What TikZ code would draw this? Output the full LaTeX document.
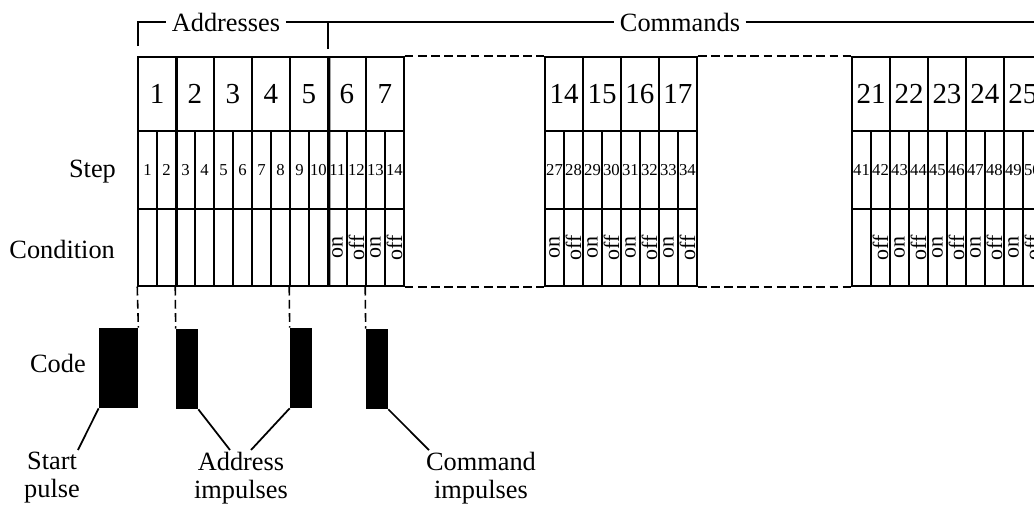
\documentclass[tikz,border=0pt]{standalone}
\usepackage{fontspec}
\setmainfont{Liberation Serif}
\usetikzlibrary{positioning}

\tikzset{
  box/.style={draw, line width=0.85pt, inner sep=0pt, minimum width=0.76cm,
    minimum height=1.48cm, font=\fontsize{16.5}{18}\selectfont},
  stepcell/.style={draw, line width=0.85pt, inner sep=0pt, minimum width=0.38cm,
    minimum height=1.56cm, font=\fontsize{9.5}{10}\selectfont},
  condcell/.style={draw, line width=0.85pt, inner sep=0pt, minimum width=0.38cm,
    minimum height=1.54cm, font=\fontsize{12.5}{13}\selectfont},
  pulse/.style={fill=black, inner sep=0pt, minimum height=1.6cm},
  caption/.style={font=\fontsize{15}{16}\selectfont, inner sep=1pt},
  heading/.style={caption, inner xsep=3pt},
  rule/.style={line width=1pt},
  gap/.style={dash pattern=on 5pt off 2.5pt, line width=0.9pt},
}
\newcommand{\swon}{\rotatebox{90}{on}}
\newcommand{\swoff}{\rotatebox{90}{off}}

\begin{document}
\begin{tikzpicture}[x=0.02cm, y=-0.02cm, node distance=0.76cm, on grid]
   \clip (0,0) rectangle (1034,511);

   % address boxes and command boxes
   \node[box] (b1)  at (157,94)      {1};
   \node[box] (b2)  [right=of b1]    {2};
   \node[box] (b3)  [right=of b2]    {3};
   \node[box] (b4)  [right=of b3]    {4};
   \node[box] (b5)  [right=of b4]    {5};
   \node[box] (b6)  [right=of b5]    {6};
   \node[box] (b7)  [right=of b6]    {7};
   \node[box] (b14) at (564,94)      {14};
   \node[box] (b15) [right=of b14]   {15};
   \node[box] (b16) [right=of b15]   {16};
   \node[box] (b17) [right=of b16]   {17};
   \node[box] (b21) at (871,94)      {21};
   \node[box] (b22) [right=of b21]   {22};
   \node[box] (b23) [right=of b22]   {23};
   \node[box] (b24) [right=of b23]   {24};
   \node[box] (b25) [right=of b24]   {25};

   % two steps under every box
   \node[stepcell] (s1)  [below left=1.52cm and 0.19cm of b1]   {1};
   \node[stepcell] (s2)  [below right=1.52cm and 0.19cm of b1]  {2};
   \node[stepcell] (s3)  [below left=1.52cm and 0.19cm of b2]   {3};
   \node[stepcell] (s4)  [below right=1.52cm and 0.19cm of b2]  {4};
   \node[stepcell] (s5)  [below left=1.52cm and 0.19cm of b3]   {5};
   \node[stepcell] (s6)  [below right=1.52cm and 0.19cm of b3]  {6};
   \node[stepcell] (s7)  [below left=1.52cm and 0.19cm of b4]   {7};
   \node[stepcell] (s8)  [below right=1.52cm and 0.19cm of b4]  {8};
   \node[stepcell] (s9)  [below left=1.52cm and 0.19cm of b5]   {9};
   \node[stepcell] (s10) [below right=1.52cm and 0.19cm of b5]  {10};
   \node[stepcell] (s11) [below left=1.52cm and 0.19cm of b6]   {11};
   \node[stepcell] (s12) [below right=1.52cm and 0.19cm of b6]  {12};
   \node[stepcell] (s13) [below left=1.52cm and 0.19cm of b7]   {13};
   \node[stepcell] (s14) [below right=1.52cm and 0.19cm of b7]  {14};
   \node[stepcell] (s27) [below left=1.52cm and 0.19cm of b14]  {27};
   \node[stepcell] (s28) [below right=1.52cm and 0.19cm of b14] {28};
   \node[stepcell] (s29) [below left=1.52cm and 0.19cm of b15]  {29};
   \node[stepcell] (s30) [below right=1.52cm and 0.19cm of b15] {30};
   \node[stepcell] (s31) [below left=1.52cm and 0.19cm of b16]  {31};
   \node[stepcell] (s32) [below right=1.52cm and 0.19cm of b16] {32};
   \node[stepcell] (s33) [below left=1.52cm and 0.19cm of b17]  {33};
   \node[stepcell] (s34) [below right=1.52cm and 0.19cm of b17] {34};
   \node[stepcell] (s41) [below left=1.52cm and 0.19cm of b21]  {41};
   \node[stepcell] (s42) [below right=1.52cm and 0.19cm of b21] {42};
   \node[stepcell] (s43) [below left=1.52cm and 0.19cm of b22]  {43};
   \node[stepcell] (s44) [below right=1.52cm and 0.19cm of b22] {44};
   \node[stepcell] (s45) [below left=1.52cm and 0.19cm of b23]  {45};
   \node[stepcell] (s46) [below right=1.52cm and 0.19cm of b23] {46};
   \node[stepcell] (s47) [below left=1.52cm and 0.19cm of b24]  {47};
   \node[stepcell] (s48) [below right=1.52cm and 0.19cm of b24] {48};
   \node[stepcell] (s49) [below left=1.52cm and 0.19cm of b25]  {49};
   \node[stepcell] (s50) [below right=1.52cm and 0.19cm of b25] {50};

   % switch condition of every step
   \node[condcell] (c1)  [below=1.55cm of s1]  {};
   \node[condcell] (c2)  [below=1.55cm of s2]  {};
   \node[condcell] (c3)  [below=1.55cm of s3]  {};
   \node[condcell] (c4)  [below=1.55cm of s4]  {};
   \node[condcell] (c5)  [below=1.55cm of s5]  {};
   \node[condcell] (c6)  [below=1.55cm of s6]  {};
   \node[condcell] (c7)  [below=1.55cm of s7]  {};
   \node[condcell] (c8)  [below=1.55cm of s8]  {};
   \node[condcell] (c9)  [below=1.55cm of s9]  {};
   \node[condcell] (c10) [below=1.55cm of s10] {};
   \node[condcell] (c11) [below=1.55cm of s11] {\swon};
   \node[condcell] (c12) [below=1.55cm of s12] {\swoff};
   \node[condcell] (c13) [below=1.55cm of s13] {\swon};
   \node[condcell] (c14) [below=1.55cm of s14] {\swoff};
   \node[condcell] (c27) [below=1.55cm of s27] {\swon};
   \node[condcell] (c28) [below=1.55cm of s28] {\swoff};
   \node[condcell] (c29) [below=1.55cm of s29] {\swon};
   \node[condcell] (c30) [below=1.55cm of s30] {\swoff};
   \node[condcell] (c31) [below=1.55cm of s31] {\swon};
   \node[condcell] (c32) [below=1.55cm of s32] {\swoff};
   \node[condcell] (c33) [below=1.55cm of s33] {\swon};
   \node[condcell] (c34) [below=1.55cm of s34] {\swoff};
   \node[condcell] (c41) [below=1.55cm of s41] {};
   \node[condcell] (c42) [below=1.55cm of s42] {\swoff};
   \node[condcell] (c43) [below=1.55cm of s43] {\swon};
   \node[condcell] (c44) [below=1.55cm of s44] {\swoff};
   \node[condcell] (c45) [below=1.55cm of s45] {\swon};
   \node[condcell] (c46) [below=1.55cm of s46] {\swoff};
   \node[condcell] (c47) [below=1.55cm of s47] {\swon};
   \node[condcell] (c48) [below=1.55cm of s48] {\swoff};
   \node[condcell] (c49) [below=1.55cm of s49] {\swon};
   \node[condcell] (c50) [below=1.55cm of s50] {\swoff};

   % heavier rules and the left-out parts of the table
   \draw[line width=1.8pt] (b5.north east) -- (c10.south east);
   \draw[line width=1.3pt] (b1.north east) -- (c2.south east);
   \draw[gap] (b7.north east)  -- (b14.north west);
   \draw[gap] (c14.south east) -- (c27.south west);
   \draw[gap] (b17.north east) -- (b21.north west);
   \draw[gap] (c34.south east) -- (c41.south west);

   % headings with their brackets
   \coordinate (al) at (138,46);
   \coordinate (ac) at (138,22);
   \coordinate (mt) at (328,22);
   \coordinate (mb) at (328,49);
   \coordinate (re) at (1034,22);
   \node[heading] (addr) at (226,22) {Addresses};
   \node[heading] (cmds) at (680,22) {Commands};
   \draw[rule] (al) -- (ac) -- (addr.west);
   \draw[rule] (addr.east) -- (cmds.west);
   \draw[rule] (mb) -- (mt);
   \draw[rule] (cmds.east) -- (re);

   % row names
   \node[caption, anchor=base east] (steplbl) at (118,177) {Step};
   \node[caption, anchor=base east] (condlbl) at (117,258) {Condition};
   \node[caption, anchor=base west] (codelbl) at (28,372)  {Code};

   % code pulses
   \node[pulse, minimum width=0.78cm] (start) at (118.5,368) {};
   \node[pulse, minimum width=0.44cm] (ap1)   at (187,369)   {};
   \node[pulse, minimum width=0.44cm] (ap2)   at (301,368)   {};
   \node[pulse, minimum width=0.44cm] (cp)    at (377,369)   {};

   \draw[gap] (c1.south west)  -- (start.north east);
   \draw[gap] (c3.south west)  -- (ap1.north west);
   \draw[gap] (c9.south west)  -- (ap2.north west);
   \draw[gap] (c13.south west) -- (cp.north west);

   % pulse names
   \node[caption, align=center, anchor=north] (startlbl) at (52,450)  {Start\\pulse};
   \node[caption, align=center, anchor=north] (addrlbl)  at (241,450) {Address\\impulses};
   \node[caption, align=center, anchor=north] (cmdlbl)   at (481,450) {Command\\impulses};

   \draw[rule] (start.south west) -- ([xshift=-0.08cm]startlbl.north east);
   \draw[rule] (ap1.south east) -- ([xshift=-0.22cm]addrlbl.north);
   \draw[rule] (ap2.south west) -- ([xshift=0.2cm]addrlbl.north);
   \draw[rule] (cp.south east) -- ([xshift=0.1cm]cmdlbl.north west);
\end{tikzpicture}
\end{document}
